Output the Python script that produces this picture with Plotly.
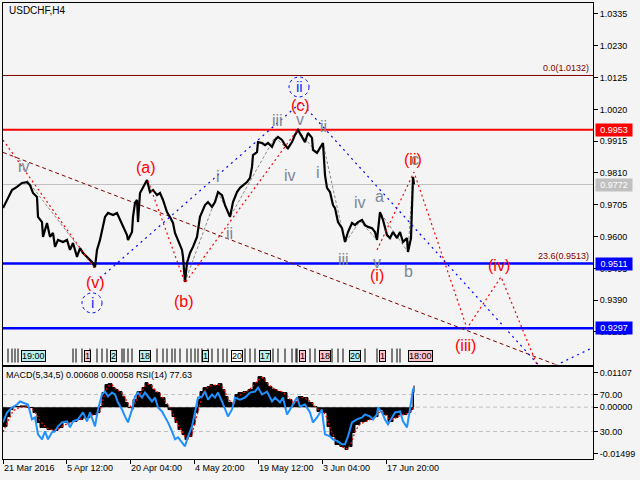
import plotly.graph_objects as go

FONT = "Liberation Sans"

# ---------------- data ----------------
price_bars = [0,4,9,14,19,24,27,30,34,35,39,40,44,47,50,52,55,60,64,67,70,74,77,80,84,89,92,94,97,99,
              102,105,110,114,117,120,124,125,129,130,132,134,135,137,140,144,147,150,154,157,160,164,167,170,172,175,179,180,182,184,
              187,190,194,197,200,202,205,209,212,215,219,222,225,227,230,234,237,240,244,247,249,250,254,255,259,262,265,269,272,275,
              279,282,285,289,292,295,299,302,305,309,310,314,317,320,322,324,327,330,332,335,339,342,345,349,352,355,359,362,365,369,
              372,374,377,380,384,387,390,394,397,400,404,405,408,409,410,411]
price_vals = [0.9694,0.9721,0.9754,0.9764,0.9777,0.9780,0.9770,0.9744,0.9731,0.9665,0.9648,0.9599,0.9645,0.9599,0.9612,0.9566,0.9589,0.9582,0.9589,0.9556,
              0.9579,0.9533,0.9562,0.9546,0.9533,0.9516,0.9499,0.9556,0.9589,0.9622,
              0.9665,0.9678,0.9671,0.9678,0.9655,0.9632,0.9605,0.9589,0.9615,0.9665,0.9711,0.9721,0.9648,0.9744,0.9764,0.9787,0.9747,0.9754,0.9737,0.9744,
              0.9721,0.9681,0.9665,0.9645,0.9612,0.9589,0.9556,0.9533,0.9450,0.9513,
              0.9546,0.9566,0.9599,0.9665,0.9688,0.9704,0.9714,0.9698,0.9714,0.9747,0.9737,0.9704,0.9681,0.9665,0.9714,0.9747,0.9761,0.9770,0.9780,0.9794,
              0.9830,0.9869,0.9879,0.9912,0.9909,0.9902,0.9909,0.9896,0.9919,0.9929,
              0.9919,0.9902,0.9892,0.9912,0.9936,0.9952,0.9929,0.9912,0.9942,0.9926,0.9886,0.9876,0.9893,0.9909,0.9803,0.9761,0.9747,0.9704,0.9694,0.9648,
              0.9628,0.9582,0.9615,0.9645,0.9638,0.9648,0.9655,0.9638,0.9632,0.9628,
              0.9615,0.9589,0.9681,0.9655,0.9605,0.9595,0.9615,0.9595,0.9615,0.9582,0.9595,0.9549,0.9595,0.9681,0.9797,0.9772]

macd_bars = [0,4,7,10,17,24,30,34,37,44,50,55,60,67,74,80,87,94,97,99,102,105,109,112,115,119,122,125,129,130,
             134,139,142,145,149,152,157,162,165,169,172,175,179,182,185,189,192,195,197,200,204,207,210,215,219,222,225,229,232,235,
             240,245,250,255,259,262,265,269,274,279,284,289,292,295,300,305,310,314,317,320,324,327,332,337,342,345,349,352,357,364,
             370,375,380,385,390,395,400,404,408,410,411]
macd_hist = [-0.00627,-0.00304,-0.00078,0.0002,0.0004,-0.0001,-0.00174,-0.00497,-0.00659,-0.00724,-0.00756,-0.00659,-0.00497,-0.00465,-0.00400,-0.00336,-0.00239,-0.00174,0.0002,0.00472,
             0.0073,0.00762,0.00633,0.00568,0.00504,0.00342,0.00149,-0.00013,-0.00078,0.00245,
             0.00504,0.00633,0.00795,0.0073,0.00568,0.00472,0.0031,0.00084,-0.00078,-0.00304,-0.00497,-0.00724,-0.00885,-0.01046,-0.0095,-0.00562,-0.00174,0.00245,0.00504,0.00633,
             0.00665,0.0073,0.00698,0.00762,0.00568,0.00342,0.00149,0.00084,0.00407,0.00472,
             0.00504,0.00568,0.00795,0.00988,0.00956,0.00795,0.00665,0.00568,0.00504,0.00472,0.00245,0.00084,0.00181,0.00342,0.0031,0.00149,0.0002,-0.00142,-0.00078,-0.00174,
             -0.00627,-0.0095,-0.01208,-0.01273,-0.0137,-0.01273,-0.0082,-0.00562,-0.00465,-0.004,
             -0.00304,-0.00078,-0.00239,-0.00465,-0.00336,-0.00239,-0.00239,-0.00174,-0.00078,0.00472,0.0070]
macd_signal = [-0.0080,-0.0052,-0.0030,-0.0012,0.0000,0.0001,-0.0008,-0.0025,-0.0045,-0.0068,-0.0074,-0.0072,-0.0060,-0.0050,-0.0043,-0.0036,-0.0028,-0.0020,-0.0012,0.0010,
               0.0045,0.0068,0.0072,0.0062,0.0055,0.0045,0.0030,0.0012,-0.0003,-0.0002,
               0.0025,0.0052,0.0068,0.0075,0.0068,0.0056,0.0042,0.0022,0.0008,-0.0015,-0.0035,-0.0058,-0.0078,-0.0095,-0.0102,-0.0085,-0.0050,-0.0012,0.0015,0.0045,
               0.0062,0.0068,0.0070,0.0073,0.0066,0.0050,0.0028,0.0012,0.0018,0.0035,
               0.0046,0.0053,0.0068,0.0088,0.0096,0.0088,0.0075,0.0064,0.0055,0.0050,0.0038,0.0018,0.0013,0.0025,0.0032,0.0024,0.0010,-0.0005,-0.0010,-0.0012,
               -0.0035,-0.0068,-0.0102,-0.0125,-0.0133,-0.0135,-0.0110,-0.0078,-0.0055,-0.0043,
               -0.0035,-0.0018,-0.0015,-0.0035,-0.0040,-0.0030,-0.0025,-0.0020,-0.0012,-0.0005,0.00058]

rsi_bars = [0,4,9,14,17,20,25,29,32,35,39,42,45,49,52,55,59,64,67,70,75,80,84,87,92,95,99,102,105,109,
            112,115,119,122,125,129,132,135,139,142,145,149,152,155,159,162,165,169,172,175,179,182,185,189,192,195,199,202,205,209,
            212,215,219,222,225,229,232,237,242,247,252,255,259,264,269,272,277,280,284,287,290,294,297,302,307,310,314,319,320,322,
            327,330,335,339,342,345,349,354,359,362,367,370,374,375,379,382,385,389,392,397,400,404,406,408,410,411]
rsi_vals = [39.8,50.6,56.0,59.2,62.5,61.4,59.2,43.0,45.2,26.8,21.4,30.1,21.4,29.0,30.1,35.5,39.8,40.9,34.4,40.9,43.0,50.6,40.9,50.6,35.5,53.8,70.1,73.3,67.9,72.2,
            70.1,61.4,53.8,46.3,39.8,53.8,67.9,72.2,66.8,72.2,67.9,62.5,66.8,56.0,51.7,46.3,39.8,30.1,21.4,23.6,18.1,13.8,24.6,35.5,50.6,66.8,67.9,73.3,64.6,70.1,
            66.8,72.2,62.5,53.8,46.3,53.8,66.8,64.6,66.8,72.2,73.3,77.6,70.1,73.3,62.5,66.8,61.4,66.8,48.4,53.8,59.2,66.8,57.1,59.2,50.6,39.8,45.2,53.8,43.0,26.8,
            24.6,21.4,19.2,15.9,15.9,24.6,39.8,43.0,45.2,48.4,46.3,43.0,48.4,56.0,50.6,43.0,37.6,45.2,50.6,51.7,40.9,34.4,46.3,61.4,75.5,77.6]

# horizontal levels (price, colour, width)
level_prices = [1.0132, 0.9953, 0.9772, 0.9511, 0.9297]
level_colors = ["#800000", "#ff0000", "#c0c0c0", "#0000ff", "#0000ff"]
level_widths = [1, 2, 1, 2.5, 2.5]
level_boxes = ["", "0.9953", "0.9772", "0.9511", "0.9297"]

# wave / channel lines (bar, price)
blue_wave_bars = [97, 298, 541, 590]
blue_wave_vals = [0.9463, 1.0043, 0.9156, 0.9234]
red_wave1_bars = [0, 92]
red_wave1_vals = [0.9919, 0.9493]
red_wave2_bars = [145, 182, 295]
red_wave2_vals = [0.9784, 0.9447, 0.9955]
red_wave3_bars = [374, 411, 464, 498, 537]
red_wave3_vals = [0.9556, 0.9813, 0.9297, 0.9467, 0.9153]
trend_bars = [0, 590]
trend_vals = [0.9878, 0.9130]
grey_waves = [
    ([24, 92], [0.9787, 0.9496]),
    ([182, 215, 227, 272, 285, 295], [0.9450, 0.9747, 0.9665, 0.9929, 0.9886, 0.9952]),
    ([295, 314, 320, 342, 357, 374], [0.9952, 0.9876, 0.9909, 0.9579, 0.9651, 0.9589]),
    ([374, 377, 405, 410], [0.9589, 0.9681, 0.9549, 0.9797]),
]

# wave labels: (text, bar, price, colour-kind)
wave_labels = [
    ("iv", 21, 0.9833, "g"), ("(a)", 143, 0.9827, "r"), ("(v)", 92, 0.9447, "r"),
    ("(b)", 181, 0.9387, "r"), ("i", 215, 0.9797, "g"), ("ii", 226, 0.9609, "g"),
    ("iii", 274, 0.9982, "g"), ("iv", 287, 0.9803, "g"), ("v", 297, 0.9988, "g"),
    ("(c)", 297, 1.0034, "r"), ("ii", 320, 0.9965, "g"), ("i", 315, 0.9810, "g"),
    ("iii", 340, 0.9526, "g"), ("iv", 357, 0.9711, "g"), ("a", 376, 0.9731, "g"),
    ("v", 374, 0.9516, "g"), ("(i)", 374, 0.9473, "r"), ("b", 405, 0.9486, "g"),
    ("(ii)", 410, 0.9856, "r"), ("c", 412, 0.9853, "g"), ("(iii)", 462, 0.9239, "r"),
    ("(iv)", 496, 0.9503, "r"),
]
circle_labels = [("i", 89, 0.9381), ("ii", 296, 1.0094)]

y_ticks = [1.0335, 1.0230, 1.0125, 1.0020, 0.9915, 0.9810, 0.9705, 0.9600, 0.9495, 0.9390, 0.9285]
date_bars = [0, 63, 127, 191, 255, 319, 383]
date_labels = ["21 Mar 2016", "5 Apr 12:00", "20 Apr 04:00", "4 May 20:00", "19 May 12:00", "3 Jun 04:00", "17 Jun 20:00"]

# separator strip (bar positions) and boxed labels
sep_bars = [5, 9, 12, 15, 70, 73, 79, 87, 94, 99, 104, 119, 121, 125, 129, 154, 160, 164, 169, 172, 177, 184, 188, 192, 195,
            199, 205, 209, 215, 220, 224, 242, 247, 252, 270, 275, 282, 289, 293, 294, 307, 312, 329, 335, 340, 362, 374, 389, 394, 397]
sep_box_bars = [30, 84, 110, 142, 202, 234, 262, 299, 322, 352, 379, 417]
sep_box_text = ["19:00", "1", "2", "18", "1", "20", "17", "1", "18", "20", "1", "18:00"]
sep_box_col = ["#b4f0f0", "#ffc4cc", "#b4f0f0", "#b4f0f0", "#b4f0f0", "#ffffff", "#b4f0f0", "#ffc4cc", "#ffc4cc", "#b4f0f0", "#ffc4cc", "#ffc4cc"]

# ---------------- figure ----------------
fig = go.Figure()

def line(xs, ys, color, dash, width=1, xa="x", ya="y"):
    fig.add_trace(go.Scatter(x=xs, y=ys, mode="lines", line=dict(color=color, dash=dash, width=width),
                             xaxis=xa, yaxis=ya, hoverinfo="skip", showlegend=False))

# trend line and waves
line(trend_bars, trend_vals, "#800000", "4px,3px")
for gb, gv in grey_waves:
    line(gb, gv, "#8a8a8a", "3px,2px")
# price
line(price_bars, price_vals, "#000000", "solid", 2.2)
line(red_wave1_bars, red_wave1_vals, "#ff0000", "2px,3px", 1.2)
line(red_wave2_bars, red_wave2_vals, "#ff0000", "2px,3px", 1.2)
line(red_wave3_bars, red_wave3_vals, "#ff0000", "2px,3px", 1.2)
line(blue_wave_bars, blue_wave_vals, "#0000ff", "2px,4px", 1.2)

# separator strip
sx, sy = [], []
for b in sep_bars:
    sx += [b, b, None]
    sy += [2, 16, None]
line(sx, sy, "#000000", "solid", 1, "x", "y4")

# MACD histogram, signal, RSI
fig.add_trace(go.Scatter(x=macd_bars, y=macd_hist, mode="lines", fill="tozeroy", fillcolor="#000000",
                         line=dict(color="#000000", width=1, shape="hv"), xaxis="x2", yaxis="y2",
                         hoverinfo="skip", showlegend=False))
line(macd_bars, macd_signal, "#ff0000", "2px,2px", 1.2, "x2", "y2")
line(rsi_bars, rsi_vals, "#1e90ff", "solid", 2, "x2", "y3")

shapes = []
for p, c, w in zip(level_prices, level_colors, level_widths):
    shapes.append(dict(type="line", xref="x", yref="y", x0=0, x1=590, y0=p, y1=p,
                       line=dict(color=c, width=w), layer="below"))
shapes.append(dict(type="line", xref="x2", yref="y2", x0=0, x1=590, y0=0, y1=0,
                   line=dict(color="#c0c0c0", width=1, dash="4px,3px"), layer="below"))
for t, b, p in circle_labels:
    shapes.append(dict(type="circle", xref="x", yref="y", xsizemode="pixel", ysizemode="pixel",
                       xanchor=b, yanchor=p, x0=-10, x1=10, y0=-10, y1=10,
                       line=dict(color="#0000ff", width=1, dash="dot")))

ann = []
small = dict(family=FONT, size=9, color="#000000")
ann.append(dict(text="USDCHF,H4", xref="paper", yref="paper", x=0, y=0.9846, xshift=4,
                xanchor="left", yanchor="middle", showarrow=False, font=dict(family=FONT, size=10, color="#000")))
ann.append(dict(text="MACD(5,34,5) 0.00608 0.00058 RSI(14) 77.63", xref="paper", yref="paper", x=0, y=0.1842,
                xshift=1, xanchor="left", yanchor="middle", showarrow=False, font=small))
ann.append(dict(text="0.0(1.0132)", xref="paper", yref="y", x=1, y=1.0132, xshift=-2, xanchor="right",
                yanchor="bottom", showarrow=False, font=dict(family=FONT, size=9, color="#800000")))
ann.append(dict(text="23.6(0.9513)", xref="paper", yref="y", x=1, y=0.9511, xshift=-2, yshift=1, xanchor="right",
                yanchor="bottom", showarrow=False, font=dict(family=FONT, size=9, color="#800000")))
for p, c, t in zip(level_prices, level_colors, level_boxes):
    if t:
        ann.append(dict(text=t, xref="paper", yref="y", x=1, y=p, xshift=2, xanchor="left", yanchor="middle",
                        showarrow=False, bgcolor=c, borderpad=1, width=34,
                        font=dict(family=FONT, size=9, color="#ffffff")))
cols = {"g": "#7d8799", "r": "#ff0000"}
for t, b, p, k in wave_labels:
    ann.append(dict(text=t, x=b, y=p, xref="x", yref="y", showarrow=False,
                    font=dict(family=FONT, size=16, color=cols[k])))
for t, b, p in circle_labels:
    ann.append(dict(text=t, x=b, y=p, xref="x", yref="y", showarrow=False,
                    font=dict(family=FONT, size=15, color="#0033ff")))
for b, t, c in zip(sep_box_bars, sep_box_text, sep_box_col):
    ann.append(dict(text=t, x=b, y=9, xref="x", yref="y4", showarrow=False, bgcolor=c,
                    bordercolor="#000000", borderwidth=1, borderpad=0,
                    font=dict(family=FONT, size=9, color="#000000")))

axis_common = dict(showline=True, linecolor="#000000", linewidth=1, mirror=True, showgrid=False, zeroline=False)
fig.update_layout(
    width=640, height=480,
    paper_bgcolor="#f4f4f4", plot_bgcolor="#f4f4f4",
    margin=dict(l=3, r=47, t=3, b=21),
    showlegend=False,
    shapes=shapes, annotations=ann,
    xaxis=dict(domain=[0, 1], range=[0, 590], anchor="y", showticklabels=False, ticks="", **axis_common),
    yaxis=dict(domain=[0.2072, 1], range=[0.91776, 1.03713], side="right", anchor="x",
               tickvals=y_ticks, ticktext=[f"{v:.4f}" for v in y_ticks], ticks="outside", ticklen=4,
               tickcolor="#000", tickfont=small, **axis_common),
    yaxis4=dict(overlaying="y", range=[0, 361.5], visible=False, anchor="x"),
    xaxis2=dict(domain=[0, 1], range=[0, 590], anchor="y2", tickvals=date_bars, ticktext=date_labels,
                ticks="outside", ticklen=4, tickcolor="#000", ticklabelposition="outside right",
                tickfont=small, **axis_common),
    yaxis2=dict(domain=[0, 0.2018], range=[-0.01677, 0.01301], side="right", anchor="x2",
                tickvals=[0.01107, 0, -0.01499], ticktext=["0.01107", "0.00000", "-0.01499"],
                ticks="outside", ticklen=4, tickcolor="#000", tickfont=small, **axis_common),
    yaxis3=dict(overlaying="y2", range=[0, 100], side="right", anchor="x2",
                tickvals=[70, 30], ticktext=["70.00", "30.00"], ticks="outside", ticklen=4, tickcolor="#000",
                tickfont=small, showgrid=True, gridcolor="#c0c0c0", griddash="4px,3px", zeroline=False,
                showline=False),
)

fig.write_html("out.html", config={"displayModeBar": False},
               post_script="document.body.style.margin='0';document.body.style.background='#f4f4f4';")
